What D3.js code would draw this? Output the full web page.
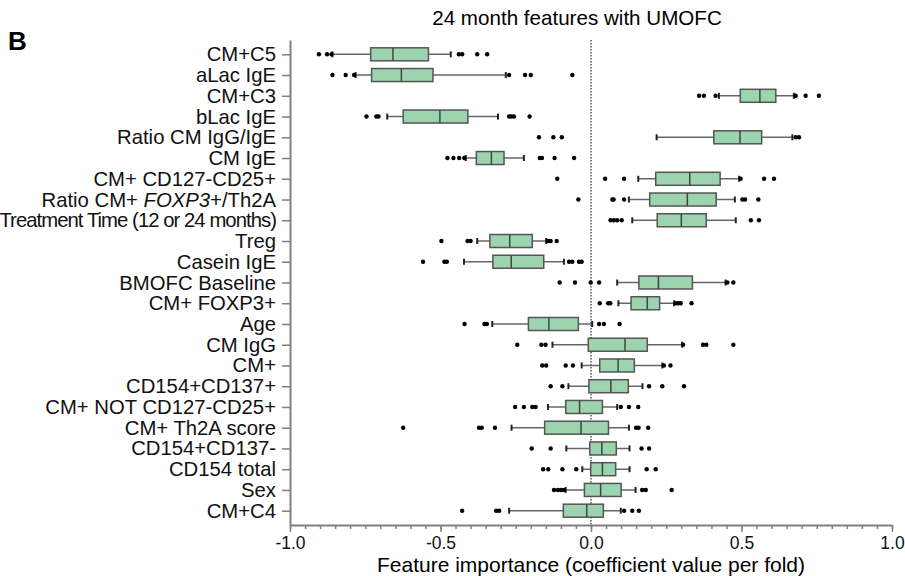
<!DOCTYPE html>
<html>
<head>
<meta charset="utf-8">
<script src="https://cdn.jsdelivr.net/npm/d3@7"></script>
<style>
  body { margin: 0; background: #fff; }
  text { font-family: "Liberation Sans", Arial, sans-serif; }
</style>
</head>
<body>
<svg id="chart" width="905" height="576"></svg>
<script>
// feature names, top to bottom
var features = ["CM+C5", "aLac IgE", "CM+C3", "bLac IgE", "Ratio CM IgG/IgE", "CM IgE",
  "CM+ CD127-CD25+", "Ratio CM+ FOXP3+/Th2A", "Treatment Time (12 or 24 months)", "Treg",
  "Casein IgE", "BMOFC Baseline", "CM+ FOXP3+", "Age", "CM IgG", "CM+", "CD154+CD137+",
  "CM+ NOT CD127-CD25+", "CM+ Th2A score", "CD154+CD137-", "CD154 total", "Sex", "CM+C4"];

var whiskerLo = [-0.859, -0.782, 0.425, -0.677, 0.218, -0.416, 0.157, 0.126, 0.137, -0.378,
  -0.422, 0.087, 0.091, -0.328, -0.128, -0.031, -0.075, -0.143, -0.264, -0.082, -0.029, -0.084, -0.272];
var q1 = [-0.732, -0.729, 0.496, -0.624, 0.408, -0.381, 0.215, 0.195, 0.220, -0.336,
  -0.326, 0.159, 0.133, -0.208, -0.009, 0.029, -0.007, -0.084, -0.154, -0.004, -0.001, -0.022, -0.092];
var medians = [-0.658, -0.630, 0.561, -0.502, 0.495, -0.331, 0.328, 0.320, 0.300, -0.270,
  -0.265, 0.224, 0.187, -0.140, 0.113, 0.090, 0.066, -0.038, -0.033, 0.036, 0.038, 0.032, -0.014];
var q3 = [-0.540, -0.525, 0.614, -0.409, 0.567, -0.289, 0.429, 0.416, 0.383, -0.195,
  -0.157, 0.337, 0.228, -0.042, 0.187, 0.144, 0.124, 0.038, 0.058, 0.084, 0.082, 0.100, 0.041];
var whiskerHi = [-0.466, -0.283, 0.674, -0.309, 0.669, -0.223, 0.492, 0.478, 0.481, -0.149,
  -0.090, 0.447, 0.276, 0.004, 0.303, 0.237, 0.171, 0.087, 0.126, 0.128, 0.128, 0.148, 0.099];
var outliers = [
  [-0.904, -0.877, -0.862, -0.439, -0.428, -0.378, -0.345],
  [-0.859, -0.815, -0.787, -0.272, -0.219, -0.200, -0.062],
  [0.359, 0.375, 0.414, 0.680, 0.713, 0.757],
  [-0.746, -0.713, -0.706, -0.272, -0.265, -0.256, -0.204],
  [-0.173, -0.125, -0.097, 0.680, 0.691],
  [-0.477, -0.457, -0.438, -0.421, -0.170, -0.163, -0.121, -0.056],
  [-0.112, 0.047, 0.110, 0.497, 0.575, 0.608],
  [-0.042, 0.071, 0.075, 0.110, 0.503, 0.512, 0.556],
  [0.065, 0.076, 0.087, 0.102, 0.531, 0.558],
  [-0.497, -0.410, -0.400, -0.143, -0.134, -0.114],
  [-0.558, -0.487, -0.479, -0.073, -0.062, -0.040, -0.031],
  [-0.104, -0.053, -0.001, 0.027, 0.453, 0.473],
  [0.029, 0.057, 0.064, 0.282, 0.290, 0.298, 0.334],
  [-0.420, -0.354, -0.346, 0.027, 0.043, 0.095],
  [-0.245, -0.165, -0.151, 0.306, 0.372, 0.383, 0.473],
  [-0.162, -0.149, -0.084, -0.060, 0.242, 0.264],
  [-0.134, -0.095, 0.193, 0.237, 0.309],
  [-0.252, -0.223, -0.195, -0.184, 0.099, 0.126, 0.157],
  [-0.624, -0.372, -0.363, -0.319, 0.150, 0.158, 0.190],
  [-0.197, -0.134, 0.168, 0.193],
  [-0.159, -0.142, -0.095, -0.049, 0.185, 0.215],
  [-0.123, -0.110, -0.100, -0.090, 0.170, 0.182, 0.268],
  [-0.428, -0.315, -0.305, 0.110, 0.137, 0.159]
];

var majorTicks = [-1.0, -0.5, 0.0, 0.5, 1.0];

var data = features.map(function(f, i) {
  return { name: f, lo: whiskerLo[i], q1: q1[i], med: medians[i], q3: q3[i], hi: whiskerHi[i], out: outliers[i] };
});

var svg = d3.select("#chart");
var axisColor = "#808080";

var x = d3.scaleLinear().domain([-1, 1]).range([290, 892]);
var y = d3.scalePoint().domain(features).range([40, 525]).padding(0.69);

// title + panel letter
svg.append("text").attr("x", 8).attr("y", 50)
  .attr("font-size", 26).attr("font-weight", "bold").text("B");
svg.append("text").attr("x", 577).attr("y", 25)
  .attr("text-anchor", "middle").attr("font-size", 20.6).text("24 month features with UMOFC");

// zero line
svg.append("line")
  .attr("x1", x(0)).attr("x2", x(0)).attr("y1", 40).attr("y2", 525)
  .attr("stroke", "#555").attr("stroke-width", 1.5).attr("stroke-dasharray", "1.5,1.5");

// minor x ticks
var minor = d3.range(-1, 1.0001, 0.05).map(function(d) { return +d.toFixed(2); });
svg.append("g")
  .attr("transform", "translate(0,525)")
  .call(d3.axisBottom(x).tickValues(minor).tickSize(4).tickSizeOuter(0).tickFormat(""))
  .call(function(g) {
    g.select(".domain").remove();
    g.selectAll("line").attr("stroke", axisColor).attr("stroke-width", 1.5);
  });

// major x ticks
svg.append("g")
  .attr("transform", "translate(0,525)")
  .call(d3.axisBottom(x).tickValues(majorTicks).tickSize(7).tickSizeOuter(0).tickPadding(5)
    .tickFormat(d3.format(".1f")))
  .call(function(g) {
    g.select(".domain").attr("stroke", axisColor).attr("stroke-width", 2);
    g.selectAll("line").attr("stroke", axisColor).attr("stroke-width", 1.5);
    g.selectAll("text").attr("font-size", 17.5).attr("fill", "#111")
      .attr("font-family", "Liberation Sans, Arial, sans-serif")
      .text(function(d) { return d3.format(".1f")(d).replace("−", "-"); });
  });

svg.append("text").attr("x", 591).attr("y", 572)
  .attr("text-anchor", "middle").attr("font-size", 21)
  .text("Feature importance (coefficient value per fold)");

// y axis
svg.append("g")
  .attr("transform", "translate(290,0)")
  .call(d3.axisLeft(y).tickSize(8).tickSizeOuter(0).tickPadding(6))
  .call(function(g) {
    g.select(".domain").attr("stroke", axisColor).attr("stroke-width", 2);
    g.selectAll("line").attr("stroke", axisColor).attr("stroke-width", 1.5);
    g.selectAll("text").attr("font-size", 20.3).attr("fill", "#111")
      .attr("font-family", "Liberation Sans, Arial, sans-serif");
    g.selectAll("text").filter(function(d) { return d === "Treatment Time (12 or 24 months)"; })
      .attr("letter-spacing", "-0.95px");
    g.selectAll("text").filter(function(d) { return d === "Ratio CM+ FOXP3+/Th2A"; })
      .each(function() {
        var t = d3.select(this).text("");
        t.append("tspan").text("Ratio CM+ ");
        t.append("tspan").attr("font-style", "italic").text("FOXP3");
        t.append("tspan").text("+/Th2A");
      });
  });

// boxes
var boxH = 13;
var rows = svg.append("g").selectAll("g.row")
  .data(data).enter().append("g").attr("class", "row");

rows.append("line")
  .attr("x1", function(d) { return x(d.lo); })
  .attr("x2", function(d) { return x(d.hi); })
  .attr("y1", function(d) { return y(d.name); })
  .attr("y2", function(d) { return y(d.name); })
  .attr("stroke", "#666").attr("stroke-width", 1.5);

rows.selectAll("line.cap")
  .data(function(d) { return [{ v: d.lo, n: d.name }, { v: d.hi, n: d.name }]; })
  .enter().append("line").attr("class", "cap")
  .attr("x1", function(d) { return x(d.v); })
  .attr("x2", function(d) { return x(d.v); })
  .attr("y1", function(d) { return y(d.n) - 3; })
  .attr("y2", function(d) { return y(d.n) + 3; })
  .attr("stroke", "#222").attr("stroke-width", 2);

rows.append("rect")
  .attr("x", function(d) { return x(d.q1); })
  .attr("width", function(d) { return x(d.q3) - x(d.q1); })
  .attr("y", function(d) { return y(d.name) - boxH / 2; })
  .attr("height", boxH)
  .attr("fill", "#9bd4ae").attr("stroke", "#555").attr("stroke-width", 1.5);

rows.append("line")
  .attr("x1", function(d) { return x(d.med); })
  .attr("x2", function(d) { return x(d.med); })
  .attr("y1", function(d) { return y(d.name) - boxH / 2; })
  .attr("y2", function(d) { return y(d.name) + boxH / 2; })
  .attr("stroke", "#444").attr("stroke-width", 1.5);

rows.selectAll("circle")
  .data(function(d) { return d.out.map(function(v) { return { v: v, n: d.name }; }); })
  .enter().append("circle")
  .attr("cx", function(d) { return x(d.v); })
  .attr("cy", function(d) { return y(d.n); })
  .attr("r", 2.2)
  .attr("fill", "#000");
</script>
</body>
</html>
